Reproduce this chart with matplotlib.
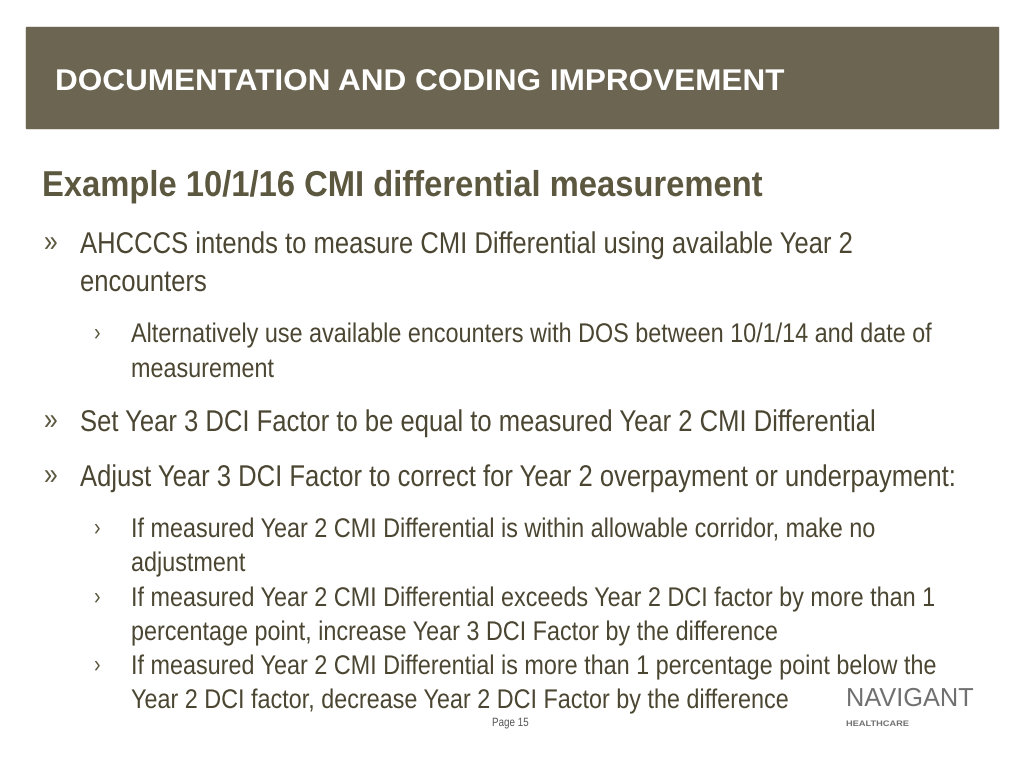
import matplotlib
matplotlib.use("Agg")
import matplotlib.pyplot as plt
from matplotlib.patches import Rectangle, PathPatch
from matplotlib.textpath import TextPath
from matplotlib.font_manager import FontProperties
from matplotlib.transforms import Affine2D

header = "DOCUMENTATION AND CODING IMPROVEMENT"
heading = "Example 10/1/16 CMI differential measurement"
# (level, baseline y pixel, text); level 0 = continuation line
lines = [
    (1, 253, "AHCCCS intends to measure CMI Differential using available Year 2"),
    (0, 291, "encounters"),
    (2, 342, "Alternatively use available encounters with DOS between 10/1/14 and date of"),
    (0, 377, "measurement"),
    (1, 431, "Set Year 3 DCI Factor to be equal to measured Year 2 CMI Differential"),
    (1, 486, "Adjust Year 3 DCI Factor to correct for Year 2 overpayment or underpayment:"),
    (2, 537, "If measured Year 2 CMI Differential is within allowable corridor, make no"),
    (0, 571, "adjustment"),
    (2, 606, "If measured Year 2 CMI Differential exceeds Year 2 DCI factor by more than 1"),
    (0, 640, "percentage point, increase Year 3 DCI Factor by the difference"),
    (2, 674, "If measured Year 2 CMI Differential is more than 1 percentage point below the"),
    (0, 708, "Year 2 DCI factor, decrease Year 2 DCI Factor by the difference"),
]
page_label = "Page 15"

W, H = 1024, 768
fig = plt.figure(figsize=(10.24, 7.68), dpi=100)
ax = fig.add_axes([0, 0, 1, 1])
ax.set_xlim(0, W)
ax.set_ylim(H, 0)
ax.axis("off")

REG = FontProperties(family="Liberation Sans")
BOLD = FontProperties(family="Liberation Sans", weight="bold")


def ptext(x, y, s, size, color, prop=REG, sx=0.82, width=None):
    """draw text as a horizontally squeezed path, (x, y) = left baseline in pixels"""
    tp = TextPath((0, 0), s, size=size, prop=prop)
    if width is not None:
        ext = tp.get_extents()
        sx = width / ext.width
    tr = Affine2D().scale(sx, -1).translate(x, y)
    ax.add_patch(PathPatch(tr.transform_path(tp), color=color, lw=0))


ax.add_patch(Rectangle((26, 27), 972, 101, color="#6b6552"))
ptext(55, 90, header, 30, "white", prop=BOLD, width=727)
ptext(42, 196, heading, 36, "#5c573f", prop=BOLD, width=718)

text_col = "#4b4632"
cur = 1
for level, y, s in lines:
    if level == 0:
        level = cur
    elif level == 1:
        ptext(44, y - 2, "»", 30, "#5c573f")
    else:
        ptext(94, y - 2, "›", 24, "#5c573f")
    cur = level
    if level == 1:
        ptext(80, y, s, 30, text_col, sx=0.854)
    else:
        ptext(131, y, s, 27, text_col, sx=0.866)

ptext(492, 726, page_label, 12, "#555555")
ptext(846, 706, "NAVIGANT", 26, "#707070", width=125)
ptext(846, 726, "HEALTHCARE", 8, "#707070", prop=BOLD, width=62)

fig.savefig("out.png", dpi=100)
